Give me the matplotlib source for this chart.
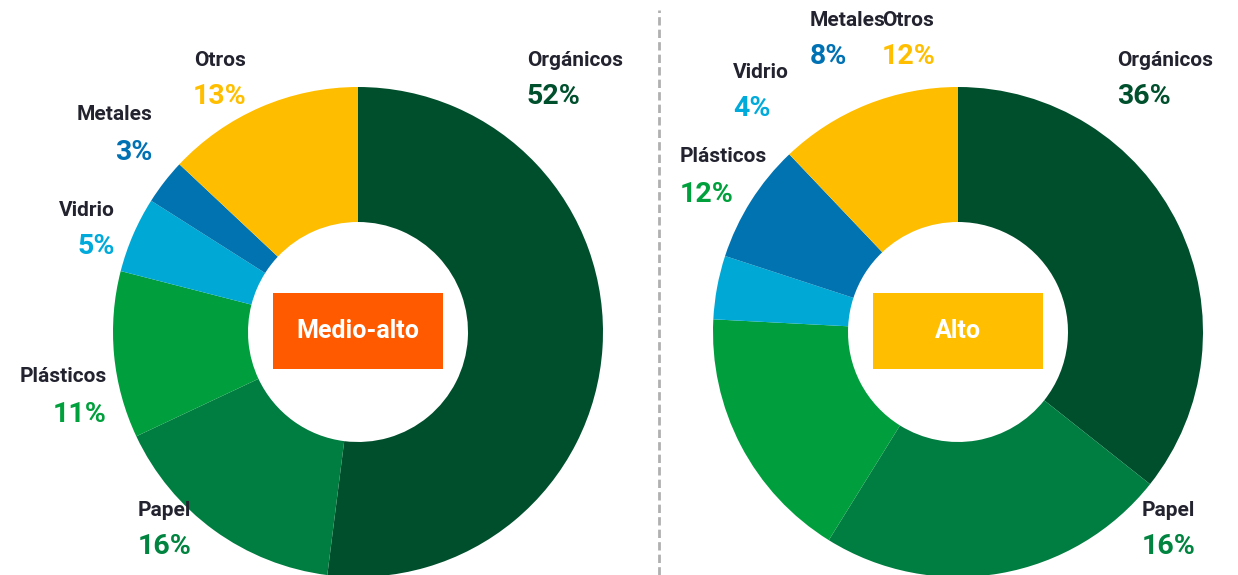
import matplotlib.pyplot as plt
from matplotlib.patches import Rectangle

# Categories, clockwise from 12 o'clock
categories = ["Orgánicos", "Papel", "Plásticos", "Vidrio", "Metales", "Otros"]

# Medio-alto: drawn shares match the printed numbers
medio_alto_pct = [52, 16, 11, 5, 3, 13]

# Alto: printed numbers (sum 88) and the shares as the wedges are actually drawn
alto_pct = [36, 16, 12, 4, 8, 12]
alto_drawn = [35.7, 23.2, 17.0, 4.2, 7.9, 12.1]

wedge_colours = ["#004f2c", "#007d40", "#009e3d", "#00a8d5", "#0073b0", "#ffbd00"]
pct_colours = ["#00502d", "#00843f", "#00a03c", "#00aadb", "#0071b3", "#ffbf00"]
name_colour = "#23232f"

FONT = "Roboto"
W, H = 1238, 575
R, HOLE = 245, 110

fig = plt.figure(figsize=(W / 100, H / 100), dpi=100)
ax = fig.add_axes([0, 0, 1, 1])


def donut(cx, cy, values):
    ax.pie(
        values,
        colors=wedge_colours,
        startangle=90,
        counterclock=False,
        radius=R,
        center=(cx, cy),
        wedgeprops=dict(width=R - HOLE, linewidth=0),
        frame=True,
    )


def label(x, y, name, pct, colour, ha):
    # x, y in pixel coords from top-left of picture
    ax.text(x, H - y, name, ha=ha, va="center", fontsize=15, fontweight="bold",
            family=FONT, color=name_colour)
    ax.text(x, H - y - 37, f"{pct}%", ha=ha, va="center", fontsize=20.5,
            fontweight="bold", family=FONT, color=colour)


def centre_box(cx, cy, text, colour):
    ax.add_patch(Rectangle((cx - 85, H - cy - 38), 170, 76, facecolor=colour,
                           edgecolor="none", zorder=5))
    ax.text(cx, H - cy, text, ha="center", va="center", fontsize=18,
            fontweight="bold", family=FONT, color="white", zorder=6)


donut(358, H - 332, medio_alto_pct)
donut(958, H - 332, alto_drawn)
ax.set_xlim(0, W)
ax.set_ylim(0, H)
ax.axis("off")

centre_box(358, 331, "Medio-alto", "#ff5a00")
centre_box(958, 331, "Alto", "#ffbf00")

# label anchors: (x, y, ha)
left_pos = [(527, 60, "left"), (138, 510, "left"), (107, 377, "right"),
            (115, 210, "right"), (152, 115, "right"), (246, 60, "right")]
right_pos = [(1117, 60, "left"), (1142, 510, "left"), (680, 157, "left"),
             (733, 72, "left"), (810, 20, "left"), (882, 20, "left")]

for i, cat in enumerate(categories):
    x, y, ha = left_pos[i]
    label(x, y, cat, medio_alto_pct[i], pct_colours[i], ha)
    x, y, ha = right_pos[i]
    label(x, y, cat, alto_pct[i], pct_colours[i], ha)

ax.plot([659, 659], [0, H - 10], color="#b0b0b0", linewidth=2,
        linestyle=(0, (3, 1.5)))

fig.savefig("out.png", dpi=100)
